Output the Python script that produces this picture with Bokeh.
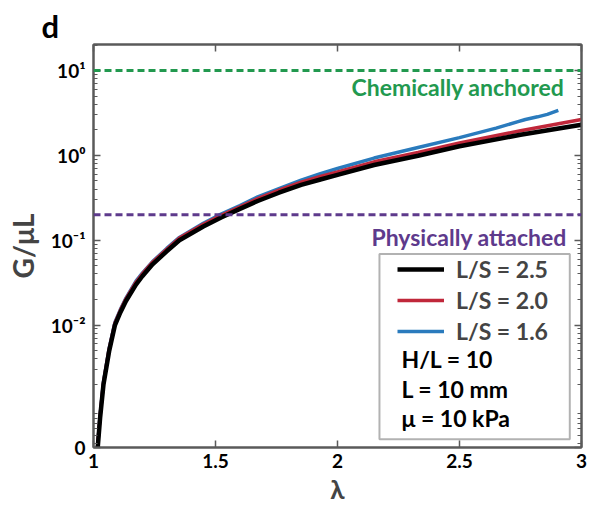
from bokeh.plotting import figure
from bokeh.models import (FixedTicker, LogAxis, LinearAxis, Span, Label, Legend,
                          LegendItem, BoxAnnotation, Range1d, CustomJSTickFormatter, Title)
from bokeh.embed import file_html
from bokeh.resources import INLINE

# ---- data ----
lam_25 = [1.017, 1.027, 1.041, 1.064, 1.088, 1.11, 1.133, 1.174, 1.20, 1.242, 1.30, 1.352,
          1.45, 1.523, 1.6, 1.673, 1.76, 1.851, 1.93, 2.0, 2.15, 2.33, 2.5, 2.75, 3.0]
g_25 = [3.5e-4, 8.0e-4, 2.0e-3, 4.9e-3, 1.0e-2, 1.41e-2, 1.92e-2, 3.0e-2, 3.76e-2, 5.2e-2,
        0.074, 0.100, 0.145, 0.185, 0.234, 0.29, 0.363, 0.45, 0.52, 0.59, 0.77, 0.99,
        1.28, 1.75, 2.3]

lam_20 = [1.016, 1.027, 1.041, 1.064, 1.088, 1.11, 1.133, 1.174, 1.20, 1.242, 1.30, 1.352,
          1.45, 1.523, 1.6, 1.673, 1.76, 1.851, 1.93, 2.0, 2.15, 2.33, 2.5, 2.75, 3.0]
g_20 = [3.5e-4, 8.5e-4, 2.1e-3, 5.2e-3, 1.06e-2, 1.49e-2, 2.04e-2, 3.2e-2, 4.0e-2, 5.5e-2,
        0.078, 0.106, 0.154, 0.197, 0.248, 0.31, 0.39, 0.485, 0.565, 0.64, 0.84, 1.08,
        1.40, 1.95, 2.65]

lam_16 = [1.016, 1.027, 1.041, 1.064, 1.088, 1.11, 1.133, 1.174, 1.20, 1.242, 1.30, 1.352,
          1.45, 1.523, 1.6, 1.673, 1.76, 1.851, 1.93, 2.0, 2.15, 2.33, 2.5, 2.65, 2.74,
          2.77, 2.82, 2.86, 2.905]
g_16 = [3.5e-4, 8.6e-4, 2.15e-3, 5.3e-3, 1.08e-2, 1.52e-2, 2.08e-2, 3.3e-2, 4.1e-2, 5.6e-2,
        0.080, 0.108, 0.158, 0.203, 0.256, 0.325, 0.405, 0.51, 0.61, 0.70, 0.93, 1.24,
        1.62, 2.1, 2.5, 2.65, 2.85, 3.05, 3.4]

series_labels = ["L/S = 2.5", "L/S = 2.0", "L/S = 1.6"]
param_labels = ["H/L = 10", "L = 10 mm", "\u03bc = 10 kPa"]

chem_level = 10.0
phys_level = 0.2

x_ticks = [1, 1.5, 2, 2.5, 3]
y_bottom = 3.6e-4
y_top = 20.3
y_ticks = [y_bottom, 0.01, 0.1, 1, 10]
y_tick_labels = ["0", "10\u207b\u00b2", "10\u207b\u00b9", "10\u2070", "10\u00b9"]

# ---- styling ----
FONT = "Lato"
FRAME = "#5a5a5a"
GREEN = "#22994f"
PURPLE = "#5e3a8c"
RED = "#c0273a"
BLUE = "#2a7bbd"

p = figure(width=589, height=508, x_range=Range1d(1, 3), y_range=Range1d(y_bottom, y_top),
           y_axis_type="log", output_backend="svg", toolbar_location=None,
           min_border_left=93, min_border_right=8, min_border_top=44, min_border_bottom=61,
           x_axis_location=None, y_axis_location=None,
           title=Title(text="d", align="left", offset=-52, standoff=0,
                       text_font=FONT, text_font_style="bold", text_font_size="31px",
                       text_color="black"))
p.grid.visible = False
p.outline_line_color = FRAME
p.outline_line_width = 2
p.background_fill_color = "white"

minor = [k * 10.0 ** e for e in range(-4, 2) for k in range(2, 10) if y_bottom < k * 10.0 ** e < y_top]
yticker = FixedTicker(ticks=y_ticks, minor_ticks=minor)
xticker = FixedTicker(ticks=x_ticks, minor_ticks=[])


def style_axis(ax):
    ax.axis_line_color = FRAME
    ax.axis_line_width = 2
    ax.major_tick_line_color = FRAME
    ax.minor_tick_line_color = FRAME
    ax.major_tick_line_width = 1.5
    ax.minor_tick_line_width = 1.2
    ax.major_tick_in = 7
    ax.major_tick_out = 0
    ax.minor_tick_in = 4
    ax.minor_tick_out = 0
    ax.major_label_text_font = FONT
    ax.major_label_text_font_style = "bold"
    ax.major_label_text_color = "black"
    ax.major_label_text_font_size = "19px"


yl = LogAxis(ticker=yticker, axis_label="G/\u03bcL")
style_axis(yl)
yl.major_label_overrides = {t: s for t, s in zip(y_ticks, y_tick_labels)}
yl.major_label_standoff = 8
yl.axis_label_text_font = FONT
yl.axis_label_text_font_style = "bold"
yl.axis_label_text_font_size = "28px"
yl.axis_label_standoff = 8
p.add_layout(yl, "left")

blank = CustomJSTickFormatter(code="return ''")

yr = LogAxis(ticker=yticker, formatter=blank)
style_axis(yr)
yr.major_label_standoff = 0
p.add_layout(yr, "right")

xb = LinearAxis(ticker=xticker, axis_label="\u03bb")
style_axis(xb)
xb.major_label_overrides = {1: "1", 1.5: "1.5", 2: "2", 2.5: "2.5", 3: "3"}
xb.major_label_standoff = 6
xb.axis_label_text_font = FONT
xb.axis_label_text_font_style = "bold"
xb.axis_label_text_font_size = "26px"
xb.axis_label_standoff = 2
p.add_layout(xb, "below")

xt = LinearAxis(ticker=xticker, formatter=blank)
style_axis(xt)
xt.major_label_standoff = 0
p.add_layout(xt, "above")

# threshold lines
p.add_layout(Span(location=chem_level, dimension="width", line_color=GREEN,
                  line_dash="7 4", line_width=3))
p.add_layout(Span(location=phys_level, dimension="width", line_color=PURPLE,
                  line_dash="7 4", line_width=3))

p.add_layout(Label(x=2.93, y=6.4, text="Chemically anchored", text_align="right",
                   text_baseline="alphabetic", text_font=FONT, text_font_style="bold",
                   text_font_size="23px", text_color=GREEN))
p.add_layout(Label(x=2.94, y=0.108, text="Physically attached", text_align="right",
                   text_baseline="alphabetic", text_font=FONT, text_font_style="bold",
                   text_font_size="23px", text_color=PURPLE))

# curves
r16 = p.line(lam_16, g_16, line_color=BLUE, line_width=3.5)
r20 = p.line(lam_20, g_20, line_color=RED, line_width=3.5)
r25 = p.line(lam_25, g_25, line_color="black", line_width=4.5)

# legend box
p.add_layout(BoxAnnotation(left=2.172, right=2.952, top=0.0689, bottom=4.5e-4,
                           fill_alpha=0, line_color="black", line_width=2))

legend = Legend(items=[LegendItem(label=series_labels[0], renderers=[r25]),
                       LegendItem(label=series_labels[1], renderers=[r20]),
                       LegendItem(label=series_labels[2], renderers=[r16])],
                location=(298, 96), margin=0, padding=6, spacing=3,
                glyph_width=47, glyph_height=26, label_height=26, label_standoff=12,
                label_text_font=FONT, label_text_font_style="bold",
                label_text_font_size="23px", background_fill_alpha=0,
                border_line_alpha=0)
p.add_layout(legend)

for txt, yv in zip(param_labels, [3.97e-3, 1.78e-3, 7.98e-4]):
    p.add_layout(Label(x=2.262, y=yv, text=txt, text_align="left", text_baseline="alphabetic",
                       text_font=FONT, text_font_style="bold", text_font_size="23px",
                       text_color="black"))

open("out.html", "w").write(file_html(p, INLINE))
